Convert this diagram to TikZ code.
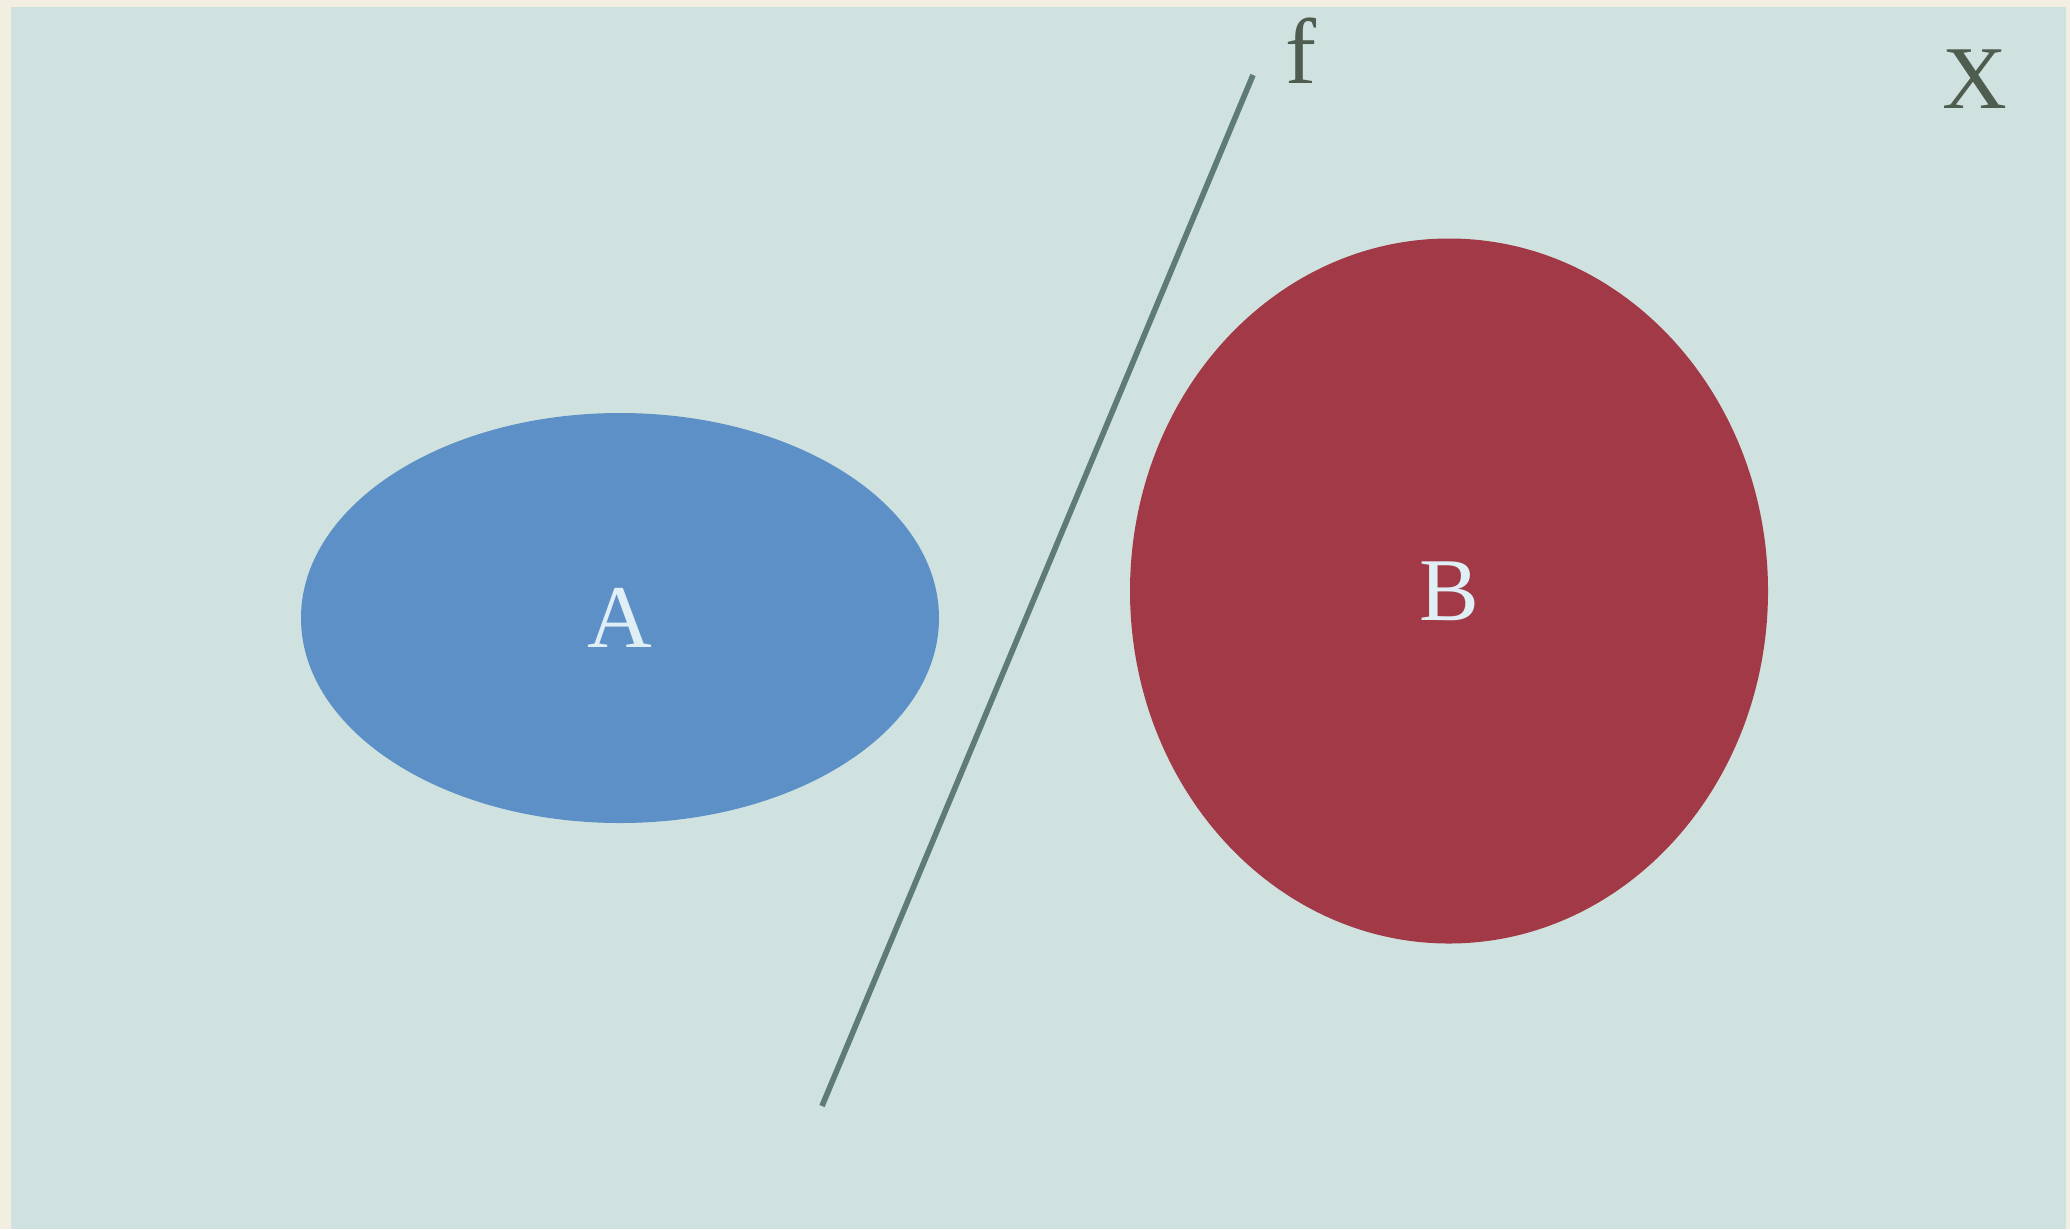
\documentclass[tikz,border=0pt]{standalone}
\usepackage{fontspec}
\setmainfont{Liberation Serif}
\usepackage{xcolor}
\usepackage{tikz}
\usetikzlibrary{positioning,shapes.geometric}

\definecolor{paper}{HTML}{F2EFE0}
\definecolor{panel}{HTML}{D0E2DF}
\definecolor{setA}{HTML}{5C90C7}
\definecolor{setB}{HTML}{A13A46}
\definecolor{cutline}{HTML}{5E7B78}
\definecolor{ink}{HTML}{4F5D50}
\definecolor{chalk}{HTML}{E0EEF5}

\begin{document}
\begin{tikzpicture}[
  set/.style={ellipse, inner sep=0pt, text=chalk, font=\fontsize{25.5}{30}\selectfont},
  lbl/.style={text=ink, inner sep=0pt, font=\fontsize{25.5}{30}\selectfont},
  cut/.style={draw=cutline, line width=1.6pt}
]
\useasboundingbox (0,0) rectangle (20.70,-12.29);
\fill[paper] (0,0) rectangle (20.70,-12.29);
\fill[panel] (0.11,-0.07) rectangle (20.66,-12.29);
\node[set, fill=setA, minimum width=6.38cm, minimum height=4.10cm] (a) at (6.20,-6.18) {A};
\node[set, fill=setB, minimum width=6.38cm, minimum height=7.05cm] (b) at (14.49,-5.91) {B};
\coordinate (ftop) at (12.53,-0.75);
\coordinate (fbot) at (8.22,-11.06);
\draw[cut] (ftop) -- (fbot);
\node[lbl, font=\fontsize{26.5}{30}\selectfont] (f) at (13.01,-0.51) {f};
\node[lbl] (x) at (19.75,-0.79) {X};
\end{tikzpicture}
\end{document}
